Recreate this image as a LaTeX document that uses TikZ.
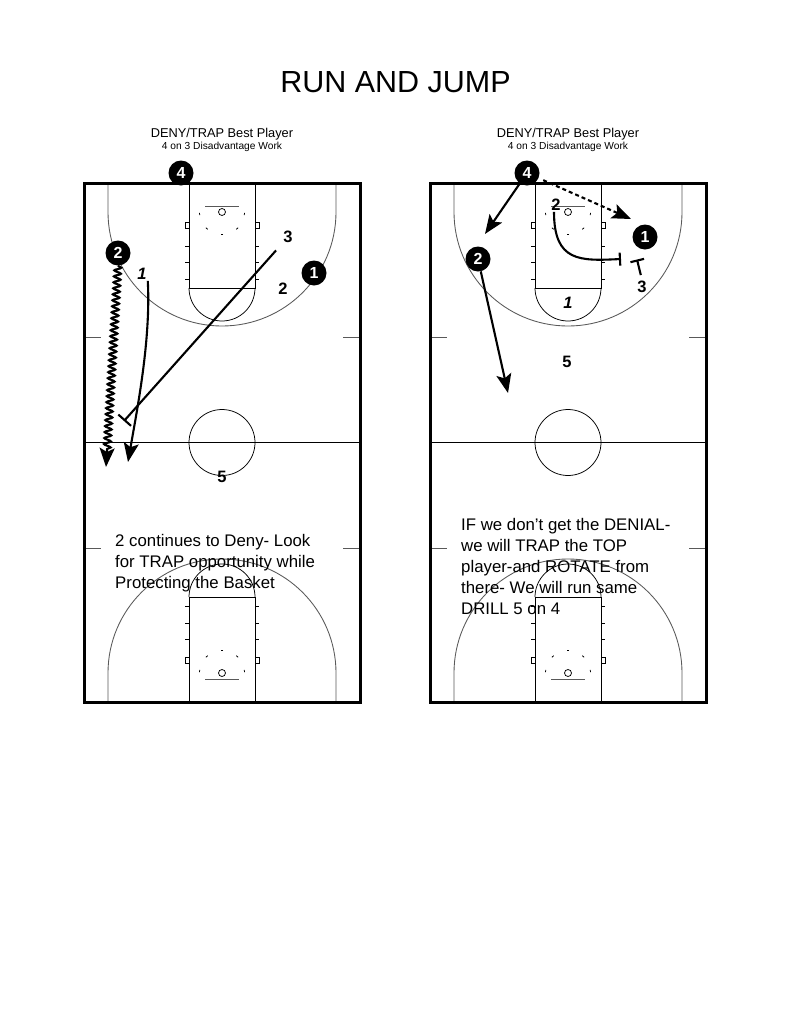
\documentclass[tikz,border=0pt]{standalone}
\usepackage{fontspec}
\setmainfont{Liberation Sans}
\usetikzlibrary{positioning,arrows.meta,decorations.pathmorphing}
\tikzset{player/.style={circle, fill=black, text=white, font=\fontsize{16}{16}\selectfont\bfseries, minimum size=25pt, inner sep=0pt},
  tag/.style={font=\fontsize{16.5}{16}\selectfont\bfseries, inner sep=1pt},
  head/.style={font=\fontsize{12.8}{14}\selectfont, inner sep=0pt, anchor=base},
  sub/.style={font=\fontsize{10.2}{12}\selectfont, inner sep=0pt, anchor=base},
  note/.style={align=left, anchor=north west, inner sep=0pt, font=\fontsize{16.8}{21}\selectfont},
  move/.style={line width=2.1pt, -{Stealth[length=19pt,width=15pt,inset=4pt]}},
  pass/.style={move, dash pattern=on 4pt off 3pt},
  dribble/.style={move, decorate, decoration={snake, amplitude=3.4pt, segment length=6pt, post length=16pt}},
  screen/.style={line width=2.1pt, -{Bar[width=#1]}}, screen/.default=16pt,
  cline/.style={line width=0.75pt},
  gline/.style={black!65, line width=0.85pt},
}
\tikzset{
  court/.pic={
    % both ends of the court
    \foreach \s/\o in {1/0,-1/519}{
      \begin{scope}[shift={(0,\o)}, yscale=\s]
        \draw[cline] (105,0) -- (105,105) -- (171,105) -- (171,0);
        \draw[cline] (105,105) arc[start angle=180, end angle=0, radius=33];
        \draw[gline] (121,23) -- (155,23);
        \draw[cline] (138,29) circle[radius=3.5];
        \foreach \a in {2,44.5,87,129.5,172}
          \draw[cline] (138,29) ++(\a:22.5) arc[start angle=\a, end angle=\a+6, radius=22.5];
        \draw[cline] (101,39) rectangle (105,45);
        \draw[cline] (171,39) rectangle (175,45);
        \foreach \t in {63,79,96}{
          \draw[cline] (101,\t) -- (105,\t);
          \draw[cline] (171,\t) -- (175,\t);
        }
        \draw[gline] (24,0) -- (24,29) arc[start angle=180, end angle=0, radius=114] -- (252,0);
        \draw[gline] (0,154) -- (17,154);
        \draw[gline] (259,154) -- (276,154);
      \end{scope}
    }
    \draw[cline] (0,259.5) -- (276,259.5);
    \draw[cline] (138,259.5) circle[radius=33];
    \draw[line width=3pt] (0,0) rectangle (276,519);
  }
}
\begin{document}
\begin{tikzpicture}[x=1pt, y=-1pt]
\fill[white] (0,0) rectangle (791,1023);
\useasboundingbox (0,0) rectangle (791,1023);
\node (title) at (395.5,82) {\fontsize{30.5}{31}\selectfont RUN AND JUMP};
\pic at (84,183) {court};
\pic at (430,183) {court};

% left court
\node[head] (hA) at (222,137) {DENY/TRAP Best Player};
\node[sub] (sA) at (222,149.5) {4 on 3 Disadvantage Work};
\node[player] (pA4) at (181,173) {4};
\node[player] (pA2) at (118,253) {2};
\node[player] (pA1) at (314,273) {1};
\node[tag] (dA1) at (142,274) {\itshape 1};
\node[tag] (dA2) at (283,289) {2};
\node[tag] (dA3) at (288,237) {3};
\node[tag] (dA5) at (222,477) {5};
\coordinate (cA2) at (106,467);
\coordinate (cA1) at (128,462);
\coordinate (cA3) at (124,421);
\draw[dribble] (pA2.south) -- (cA2);
\draw[move] (dA1.south east) .. controls (151,340) and (137,410) .. (cA1);
\draw[screen=17pt, shorten <=18pt] (dA3.center) -- (cA3);
\node[note] (nA) at (115,534.6) {2 continues to Deny- Look\\for TRAP opportunity while\\Protecting the Basket};

% right court
\node[head] (hB) at (568,137) {DENY/TRAP Best Player};
\node[sub] (sB) at (568,149.5) {4 on 3 Disadvantage Work};
\node[player] (pB4) at (527,173) {4};
\node[player] (pB2) at (478,259) {2};
\node[player] (pB1) at (645,237) {1};
\node[tag] (dB2) at (556,205) {2};
\node[tag] (dB1) at (568,303) {\itshape 1};
\node[tag] (dB3) at (642,287) {3};
\node[tag] (dB5) at (567,362) {5};
\coordinate (cB4) at (485,234);
\coordinate (cB1) at (631,219);
\coordinate (cB2) at (508,393);
\coordinate (cBs) at (621,259);
\coordinate (cB3) at (637,259.5);
\draw[move] (pB4) -- (cB4);
\draw[pass, shorten <=5pt] (pB4) -- (cB1);
\draw[move] (pB2) -- (cB2);
\draw[screen=13pt] ([xshift=-2pt]dB2.south) .. controls (554,262) and (580,261) .. (cBs);
\draw[screen=14pt, shorten <=5pt] (dB3.north) -- (cB3);
\node[note] (nB) at (461,518.6) {IF we don{\char"27}t get the DENIAL-\\we will TRAP the TOP\\player-and ROTATE from\\there- We will run same\\DRILL 5 on 4};
\end{tikzpicture}
\end{document}
